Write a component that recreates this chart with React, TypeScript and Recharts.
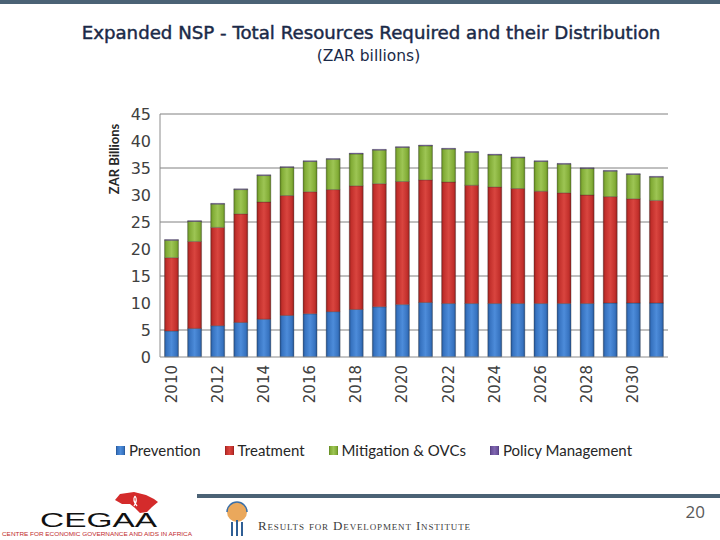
import { BarChart, Bar, XAxis, YAxis, CartesianGrid } from 'recharts'

const years = [
  '2010', '2011', '2012', '2013', '2014', '2015', '2016', '2017', '2018', '2019', '2020',
  '2021', '2022', '2023', '2024', '2025', '2026', '2027', '2028', '2029', '2030', '2031',
]
const prevention = [4.8, 5.3, 5.8, 6.4, 7.0, 7.7, 8.0, 8.4, 8.8, 9.3, 9.7, 10.1, 9.9, 9.9, 9.9, 9.9, 9.9, 9.9, 9.9, 10.0, 10.0, 10.0]
const treatment = [13.6, 16.1, 18.2, 20.1, 21.7, 22.2, 22.6, 22.6, 22.9, 22.8, 22.8, 22.7, 22.5, 21.9, 21.6, 21.3, 20.8, 20.5, 20.1, 19.7, 19.3, 19.0]
const mitigation = [3.2, 3.7, 4.3, 4.5, 4.9, 5.2, 5.6, 5.6, 5.9, 6.2, 6.3, 6.3, 6.1, 6.1, 5.9, 5.7, 5.5, 5.3, 4.9, 4.7, 4.5, 4.3]
const policy = [0.15, 0.15, 0.15, 0.15, 0.15, 0.15, 0.15, 0.15, 0.15, 0.15, 0.15, 0.15, 0.15, 0.15, 0.15, 0.15, 0.15, 0.15, 0.15, 0.15, 0.15, 0.15]

const yTicks = [0, 5, 10, 15, 20, 25, 30, 35, 40, 45]
const gridValues = [5, 15, 25, 35, 45]

const series = [
  { key: 'prevention', name: 'Prevention', fill: 'url(#gBlue)' },
  { key: 'treatment', name: 'Treatment', fill: 'url(#gRed)' },
  { key: 'mitigation', name: 'Mitigation & OVCs', fill: 'url(#gGreen)' },
  { key: 'policy', name: 'Policy Management', fill: 'url(#gPurple)' },
]

const data = years.map((year, i) => ({
  year,
  prevention: prevention[i],
  treatment: treatment[i],
  mitigation: mitigation[i],
  policy: policy[i],
}))

const grad = (id: string, dark: string, mid: string, light: string) => (
  <linearGradient id={id} x1="0" y1="0" x2="1" y2="0">
    <stop offset="0" stopColor={dark} />
    <stop offset="0.15" stopColor={mid} />
    <stop offset="0.5" stopColor={light} />
    <stop offset="0.85" stopColor={mid} />
    <stop offset="1" stopColor={dark} />
  </linearGradient>
)

const YearTick = ({ x, y, payload }: any) => (
  <text
    x={x}
    y={y}
    transform={`rotate(-90, ${x}, ${y})`}
    textAnchor="end"
    dominantBaseline="central"
    fontSize={15}
    fontFamily="DejaVu Sans"
    fill="#404040"
  >
    {payload.value}
  </text>
)

export default function App() {
  return (
    <div style={{ position: 'absolute', left: 0, top: 0, width: 720, height: 540, background: '#fff', overflow: 'hidden' }}>
      <svg width={0} height={0} style={{ position: 'absolute' }}>
        <defs>
          {grad('gBlue', '#25528e', '#3773c0', '#4d8cda')}
          {grad('gRed', '#8e201d', '#c22f2b', '#d9453f')}
          {grad('gGreen', '#5e8420', '#82ac36', '#9dc554')}
          {grad('gPurple', '#4f3c78', '#6a519a', '#7f66b0')}
        </defs>
      </svg>

      <div style={{ position: 'absolute', left: 0, top: 0, width: 720, height: 4, background: '#4b6275' }} />

      <div style={{ position: 'absolute', top: 22, left: 0, width: 742, textAlign: 'center', fontFamily: 'DejaVu Sans', fontSize: 18.2, color: '#1b2a48', WebkitTextStroke: '0.45px #1b2a48' }}>
        Expanded NSP - Total Resources Required and their Distribution
      </div>
      <div style={{ position: 'absolute', top: 47, left: 0, width: 737, textAlign: 'center', fontFamily: 'DejaVu Sans', fontSize: 15.5, color: '#1b2a48' }}>
        (ZAR billions)
      </div>

      <div style={{ position: 'absolute', left: 0, top: 0 }}>
        <BarChart width={720} height={420} data={data} margin={{ top: 114, right: 52, bottom: 8, left: 0 }} barCategoryGap={4.5}>
          <CartesianGrid vertical={false} horizontalValues={gridValues} stroke="#808080" />
          <XAxis dataKey="year" interval={1} height={55} tick={<YearTick />} tickLine={false} stroke="#8c8c8c" />
          <YAxis
            domain={[0, 45]}
            ticks={yTicks}
            width={160}
            tickLine={false}
            tickMargin={3}
            stroke="#8c8c8c"
            tick={{ fill: '#404040', fontSize: 16, fontFamily: 'DejaVu Sans' }}
          />
          {series.map((s) => (
            <Bar key={s.key} dataKey={s.key} name={s.name} stackId="a" fill={s.fill} stroke="rgba(40,40,40,0.35)" strokeWidth={0.8} isAnimationActive={false} />
          ))}
        </BarChart>
      </div>

      <svg width={720} height={540} style={{ position: 'absolute', left: 0, top: 0, pointerEvents: 'none' }}>
        <text x={119} y={159} transform="rotate(-90, 119, 159)" textAnchor="middle" fontFamily="Lato" fontWeight="bold" fontSize={13} fill="#262626">
          ZAR Billions
        </text>
      </svg>

      <div style={{ position: 'absolute', left: 116, top: 441, display: 'flex', gap: 24, fontFamily: 'Lato', fontSize: 15, color: '#262626' }}>
        {series.map((s) => (
          <div key={s.key} style={{ display: 'flex', alignItems: 'center', gap: 4 }}>
            <svg width={9} height={9}>
              <rect width={9} height={9} fill={s.fill} />
            </svg>
            <span>{s.name}</span>
          </div>
        ))}
      </div>

      <svg width={720} height={540} style={{ position: 'absolute', left: 0, top: 0, pointerEvents: 'none' }}>
        <rect x={197} y={494} width={523} height={4} fill="#4b6275" />
        <text x={705} y={518} textAnchor="end" fontFamily="Open Sans" fontSize={17} fill="#595959">20</text>
        <path d="M120,494 L134,492 L146,495 L154,499 L158,502 L152,507 L147,512 L140,513 L135,508 L130,504 L122,504 L115,500 Z" fill="#d42b2b" />
        <path d="M135,496 Q138,500 134,506 M135,496 Q132,500 137,506" stroke="#fff" strokeWidth={1.2} fill="none" />
        <text x={40} y={527} fontFamily="Liberation Sans" fontSize={20} fill="#111" textLength={117} lengthAdjust="spacingAndGlyphs">CEGAA</text>
        <text x={2} y={536} fontFamily="Liberation Sans" fontSize={4.5} fill="#c0282a" textLength={190} lengthAdjust="spacingAndGlyphs">
          CENTRE FOR ECONOMIC GOVERNANCE AND AIDS IN AFRICA
        </text>
        <circle cx={237} cy={512} r={10} fill="#eaa85c" />
        <path d="M227,512 A10,10 0 0 1 247,512" fill="none" stroke="#3a6fa8" strokeWidth={1.5} />
        <path d="M232,522 L232,536 M237,520 L237,536 M242,522 L242,536" stroke="#2f5f95" strokeWidth={2} />
        <text x={258} y={530} fontFamily="Liberation Serif" fontSize={13} fill="#3c3c3c" style={{ fontVariant: 'small-caps' }} textLength={212}>
          Results for Development Institute
        </text>
      </svg>
    </div>
  )
}
